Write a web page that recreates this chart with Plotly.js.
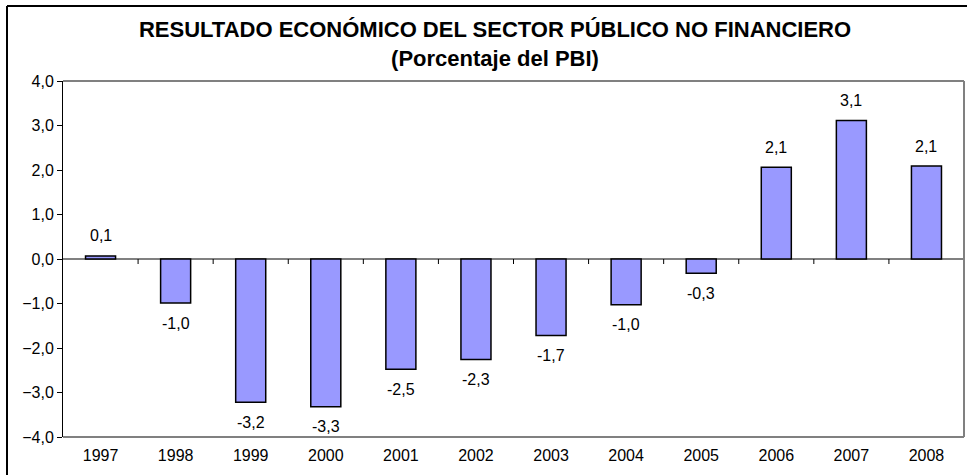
<!DOCTYPE html>
<html>
<head>
<meta charset="utf-8">
<script src="https://cdn.plot.ly/plotly-3.0.1.min.js"></script>
<style>
html,body{margin:0;padding:0;background:#fff;}
#chart{width:967px;height:475px;}
</style>
</head>
<body>
<div id="chart"></div>
<script>
var years = ["1997","1998","1999","2000","2001","2002","2003","2004","2005","2006","2007","2008"];
var values = [0.07, -0.99, -3.22, -3.32, -2.48, -2.26, -1.72, -1.03, -0.32, 2.06, 3.11, 2.09];
var yTickVals = [-4, -3, -2, -1, 0, 1, 2, 3, 4];
var titleLine1 = "RESULTADO ECONÓMICO DEL SECTOR PÚBLICO NO FINANCIERO";
var titleLine2 = "(Porcentaje del PBI)";

var W = 967, H = 475;
var L = 63, R = 3, T = 81, B = 38;
var pw = W - L - R, ph = H - T - B;
function px(x){ return (x - L) / pw; }
function py(y){ return (H - B - y) / ph; }

var font = "Liberation Sans, Arial, sans-serif";
var yRange = [-4, 4];

// value labels: x given as category index (numeric-looking category names are read as indices)
var annotations = values.map(function(v, i){
  return {
    x: i, y: v, xref: "x", yref: "y",
    text: v.toFixed(1).replace(".", ","),
    showarrow: false,
    xanchor: "center",
    yanchor: "middle",
    yshift: v >= 0 ? 20 : -20,
    font: {family: font, size: 16, color: "#000"}
  };
});

var shapes = [
  {type: "line", xref: "paper", yref: "paper", x0: 0, x1: 1, y0: 1, y1: 1, line: {color: "#808080", width: 2}},
  {type: "line", xref: "paper", yref: "paper", x0: 1, x1: 1, y0: 0, y1: 1, line: {color: "#808080", width: 2}},
  {type: "line", xref: "paper", yref: "paper", x0: 0, x1: 1, y0: 0, y1: 0, line: {color: "#808080", width: 2}},
  {type: "line", xref: "paper", yref: "paper", x0: px(7), x1: px(967), y0: py(6), y1: py(6), line: {color: "#000", width: 2}},
  {type: "line", xref: "paper", yref: "paper", x0: px(7), x1: px(7), y0: py(6), y1: py(476), line: {color: "#000", width: 2}}
];
// category-boundary ticks hanging below the zero line
var zeroFrac = (0 - yRange[0]) / (yRange[1] - yRange[0]);
for (var i = 1; i < years.length; i++) {
  shapes.push({
    type: "line", xref: "paper", yref: "paper",
    x0: i / years.length, x1: i / years.length,
    y0: zeroFrac, y1: zeroFrac - 5 / ph,
    line: {color: "#000", width: 1}
  });
}

var data = [{
  type: "bar",
  x: years,
  y: values,
  width: 0.4,
  marker: {color: "#9999FF", line: {color: "#000", width: 1.5}},
  hoverinfo: "x+y"
}];

var layout = {
  width: W, height: H,
  margin: {l: L, r: R, t: T, b: B},
  paper_bgcolor: "#fff", plot_bgcolor: "#fff",
  separators: ",.",
  showlegend: false,
  title: {
    text: "<b>" + titleLine1 + "<br>" + titleLine2 + "</b>",
    font: {family: font, size: 22, color: "#000"},
    x: 495 / W, xref: "container", xanchor: "center",
    y: 1 - 37 / H, yref: "container", yanchor: "middle"
  },
  xaxis: {
    type: "category",
    range: [-0.5, 11.5],
    showline: false, showgrid: false, zeroline: false,
    ticks: "",
    ticklabelstandoff: 7,
    tickfont: {family: font, size: 16, color: "#000"},
    fixedrange: true
  },
  yaxis: {
    range: yRange,
    tickvals: yTickVals,
    tickformat: ".1f",
    showline: true, linecolor: "#000", linewidth: 1,
    ticks: "outside", ticklen: 5, tickcolor: "#000", tickwidth: 1,
    showgrid: false,
    zeroline: true, zerolinecolor: "#808080", zerolinewidth: 1.5,
    tickfont: {family: font, size: 16, color: "#000"},
    fixedrange: true
  },
  shapes: shapes,
  annotations: annotations
};

Plotly.newPlot("chart", data, layout, {displayModeBar: false, staticPlot: true});
</script>
</body>
</html>
